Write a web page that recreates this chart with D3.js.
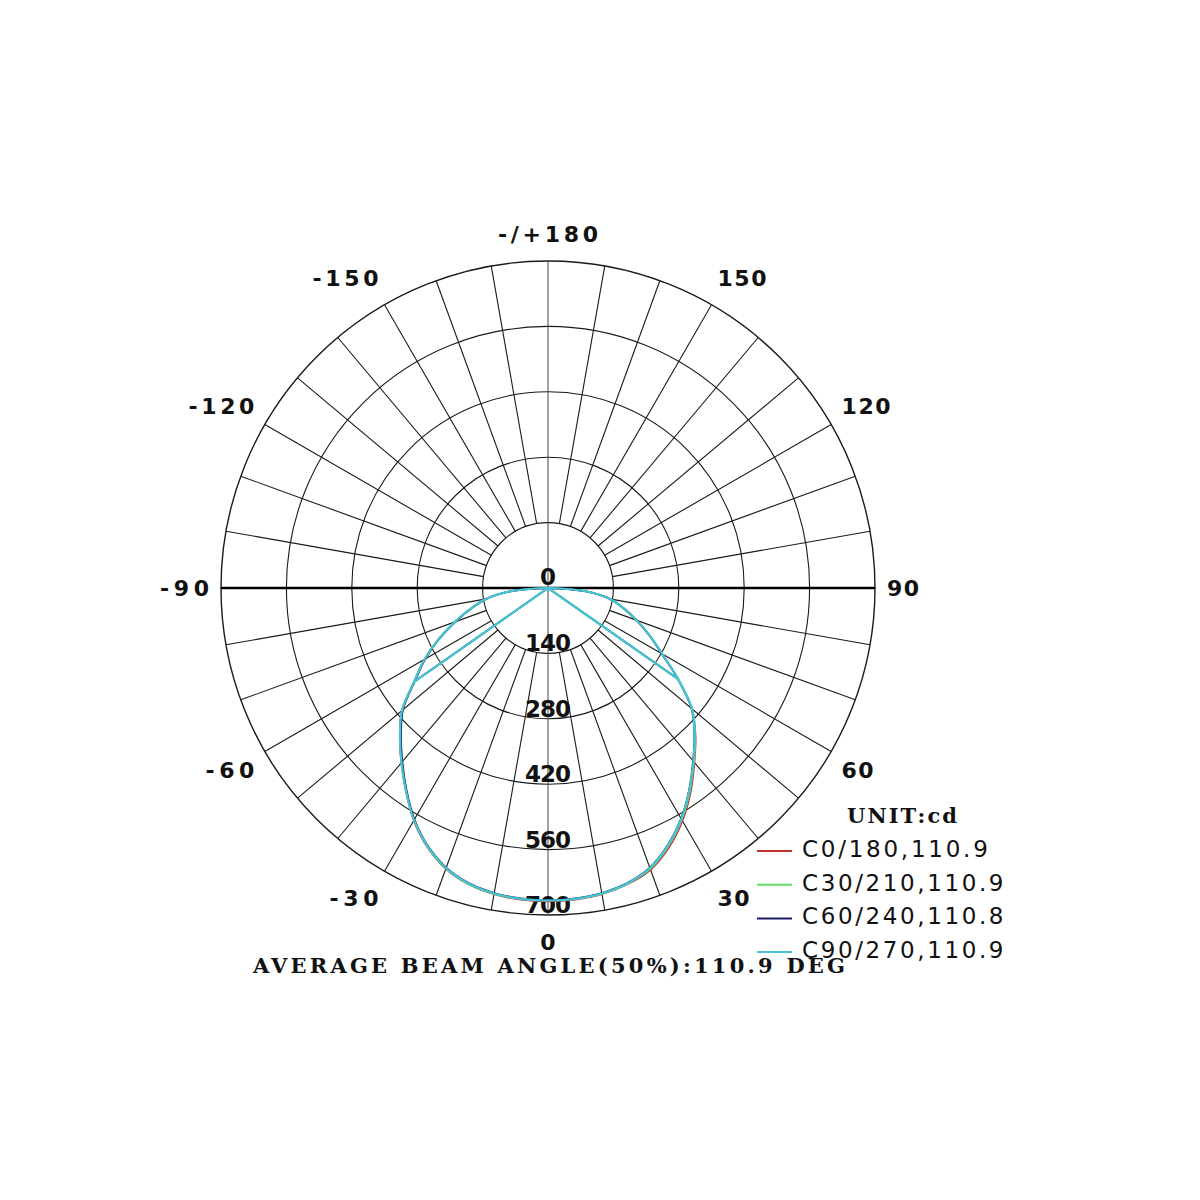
<!DOCTYPE html>
<html>
<head>
<meta charset="utf-8">
<script src="https://cdn.jsdelivr.net/npm/d3@7"></script>
<style>
  html, body { margin: 0; padding: 0; background: #ffffff; }
  svg { display: block; }
</style>
</head>
<body>
<svg id="chart" width="1200" height="1200"></svg>
<script>
// ---------------- data ----------------
const gammas = [-90,-85,-80,-75,-70,-65,-60,-55,-50,-45,-40,-35,-30,-25,-20,-15,-10,-5,0,5,10,15,20,25,30,35,40,45,50,55,60,65,70,75,80,85,90];
const seriesNames = ["C0/180,110.9", "C30/210,110.9", "C60/240,110.8", "C90/270,110.9"];
const seriesColors = ["#c0302c", "#66d96a", "#1c1c66", "#45c6d6"];
const valuesC0  = [0,80,136,173,213,259,306,351,409,449,489,531,575,612,640,657,666,670,671,670,666,657,642,613,576,533,488,447,403,341,283,241,203,169,136,80,0];
const valuesC30 = [0,79,135,172,212,258,305,350,408,448,488,530,574,611,639,656,665,668,669,668,665,656,640,610,573,530,486,446,403,341,282,240,202,168,135,80,0];
const valuesC60 = [0,80,134,170,210,256,303,348,405,445,485,528,572,609,637,654,663,667,668,667,663,654,637,607,570,527,483,443,401,339,281,239,201,167,134,79,0];
const valuesC90 = [0,80,135,172,212,258,305,350,408,448,488,530,574,610,638,655,664,668,669,668,664,655,638,608,571,528,484,444,402,340,282,240,202,168,135,80,0];
const seriesValues = [valuesC0, valuesC30, valuesC60, valuesC90];
const chordGammas = [-55, 55];            // straight segments from the centre
const ringValues = [140, 280, 420, 560, 700];
const ringLabels = ["0", "140", "280", "420", "560", "700"];
const angleTicks = [180, 150, 120, 90, 60, 30, 0, -30, -60, -90, -120, -150];
const angleLabels = ["-/+180", "150", "120", "90", "60", "30", "0", "-30", "-60", "-90", "-120", "-150"];
const unitLabel = "UNIT:cd";
const titleText = "AVERAGE BEAM ANGLE(50%):110.9 DEG";

// ---------------- layout ----------------
const svg = d3.select("#chart");
const cx = 548, cy = 588;
const r = d3.scaleLinear().domain([0, 700]).range([0, 327]);
const rad = d => d * Math.PI / 180;
// gamma: 0 = down, 90 = right, 180 = up
const px = (g, v) => cx + r(v) * Math.sin(rad(g));
const py = (g, v) => cy + r(v) * Math.cos(rad(g));
const toA = g => rad(180 - g);            // lineRadial angle (clockwise from 12 o'clock)

const sansFont = "'DejaVu Sans', sans-serif";
const serifFont = "'DejaVu Serif', serif";

const g0 = svg.append("g");

// radial spokes every 10 degrees (from inner ring outward)
const spokeAngles = d3.range(-170, 181, 10).filter(a => a !== 0 && a !== 180 && a !== 90 && a !== -90);
g0.selectAll("line.spoke").data(spokeAngles).join("line")
  .attr("x1", d => px(d, ringValues[0])).attr("y1", d => py(d, ringValues[0]))
  .attr("x2", d => px(d, 700)).attr("y2", d => py(d, 700))
  .attr("stroke", "#1a1a1a").attr("stroke-width", 1.1);

// rings
g0.selectAll("circle.ring").data(ringValues).join("circle")
  .attr("cx", cx).attr("cy", cy).attr("r", d => r(d))
  .attr("fill", "none").attr("stroke", "#1a1a1a")
  .attr("stroke-width", d => d === 700 ? 1.4 : 1.1);

// vertical 0/180 axis (thin) and horizontal 90/-90 axis (thick)
g0.append("line")
  .attr("x1", px(180, 700)).attr("y1", py(180, 700))
  .attr("x2", px(0, 700)).attr("y2", py(0, 700))
  .attr("stroke", "#444").attr("stroke-width", 1);
g0.append("line")
  .attr("x1", px(-90, 700)).attr("y1", py(-90, 700))
  .attr("x2", px(90, 700)).attr("y2", py(90, 700))
  .attr("stroke", "#000").attr("stroke-width", 2.4);

// ring value labels
const ringAll = [0].concat(ringValues);
g0.selectAll("text.ringlab").data(ringAll).join("text")
  .attr("x", cx).attr("y", (d) => cy + r(d) - (d === 0 ? 3 : 2))
  .attr("text-anchor", "middle")
  .attr("font-family", sansFont).attr("font-weight", "bold").attr("font-size", 23)
  .attr("fill", "#111")
  .attr("textLength", (d, i) => ringLabels[i].length * 16 - 2)
  .attr("lengthAdjust", "spacing")
  .text((d, i) => ringLabels[i]);

// angle labels
g0.selectAll("text.anglab").data(angleTicks).join("text")
  .each(function(d, i) {
    const s = Math.sin(rad(d)), c = Math.cos(rad(d));
    const sx = Math.abs(s) < 1e-6 ? 0 : s;
    const x = cx + 339 * sx;
    const y = cy + (354 + 14 * s * s) * c;
    const anchor = Math.abs(s) < 1e-6 ? "middle" : (s > 0 ? "start" : "end");
    const txt = angleLabels[i];
    d3.select(this)
      .attr("x", x).attr("y", y).attr("dy", "0.36em")
      .attr("text-anchor", anchor)
      .attr("font-family", sansFont).attr("font-weight", "bold").attr("font-size", 22)
      .attr("fill", "#111")
      .attr("textLength", txt.length * 17 - 2)
      .attr("lengthAdjust", "spacing")
      .text(txt);
  });

// ---------------- curves ----------------
const line = d3.lineRadial()
  .angle(d => toA(d[0]))
  .radius(d => r(d[1]))
  .curve(d3.curveCatmullRom.alpha(0.5));
const chordLine = d3.lineRadial()
  .angle(d => toA(d[0]))
  .radius(d => r(d[1]))
  .curve(d3.curveLinear);

const widths = [1.5, 1.6, 1.8, 2.2];
const curves = svg.append("g").attr("transform", `translate(${cx},${cy})`);
seriesValues.forEach((vals, si) => {
  const pts = gammas.map((g, i) => [g, vals[i]]);
  const chordPts = [
    [chordGammas[0], vals[gammas.indexOf(chordGammas[0])]],
    [0, 0],
    [chordGammas[1], vals[gammas.indexOf(chordGammas[1])]]
  ];
  curves.append("path").attr("d", line(pts))
    .attr("fill", "none").attr("stroke", seriesColors[si]).attr("stroke-width", widths[si])
    .attr("stroke-linejoin", "round");
  curves.append("path").attr("d", chordLine(chordPts))
    .attr("fill", "none").attr("stroke", seriesColors[si]).attr("stroke-width", widths[si])
    .attr("stroke-linejoin", "round");
});

// ---------------- legend ----------------
svg.append("text")
  .attr("x", 847).attr("y", 823)
  .attr("font-family", serifFont).attr("font-weight", "bold").attr("font-size", 21)
  .attr("fill", "#111")
  .attr("textLength", 110).attr("lengthAdjust", "spacing")
  .text(unitLabel);

const legend = svg.append("g");
seriesNames.forEach((name, i) => {
  const yl = 851 + i * 33.7;
  legend.append("line")
    .attr("x1", 757).attr("x2", 792).attr("y1", yl).attr("y2", yl)
    .attr("stroke", seriesColors[i]).attr("stroke-width", 2);
  legend.append("text")
    .attr("x", 802).attr("y", 857 + i * 33.5)
    .attr("font-family", sansFont).attr("font-size", 23)
    .attr("fill", "#111")
    .attr("textLength", name.length * 15.65 - 2).attr("lengthAdjust", "spacing")
    .text(name);
});

// ---------------- title ----------------
svg.append("text")
  .attr("x", 253).attr("y", 973)
  .attr("font-family", serifFont).attr("font-weight", "bold").attr("font-size", 21)
  .attr("fill", "#111")
  .attr("textLength", 592).attr("lengthAdjust", "spacing")
  .text(titleText);
</script>
</body>
</html>
